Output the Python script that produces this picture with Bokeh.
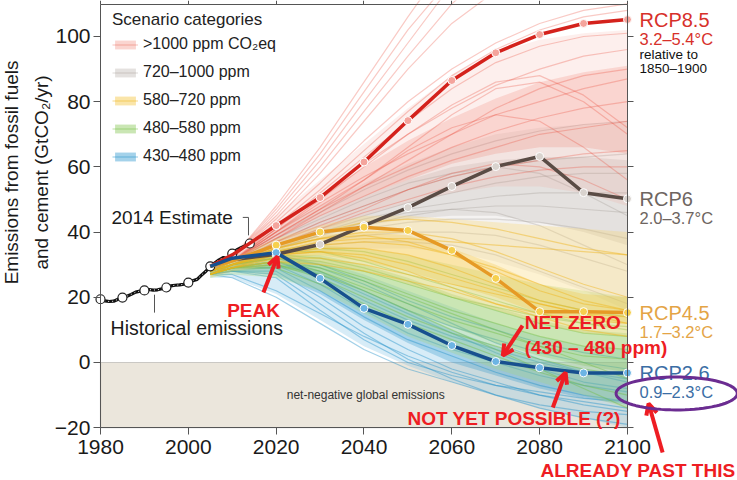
import numpy as np
from bokeh.plotting import figure
from bokeh.models import (Range1d, LinearAxis, FixedTicker, Label, Arrow, OpenHead,
                          BoxAnnotation, PolyAnnotation, Legend, LegendItem)
from bokeh.embed import file_html
from bokeh.resources import INLINE

FONT = "Liberation Sans"
RED = "#ee1d23"

# ---------------- data ----------------
hist_years = list(range(1980, 2015))
hist_vals = [19.4, 18.9, 18.7, 18.8, 19.4, 19.9, 20.3, 20.9, 21.6, 21.9,
             22.1, 22.4, 22.2, 22.3, 22.6, 23.0, 23.5, 23.7, 23.8, 24.0,
             24.5, 25.1, 25.5, 26.8, 28.0, 29.5, 30.5, 31.5, 32.2, 31.8,
             33.4, 34.5, 35.2, 35.8, 36.5]
hist_marker_years = [1980, 1985, 1990, 1995, 2000, 2005, 2010, 2014]

scen_years = [2005, 2010, 2020, 2030, 2040, 2050, 2060, 2070, 2080, 2090, 2100]
rcp_marker_years = [2020, 2030, 2040, 2050, 2060, 2070, 2080, 2090, 2100]

rcp85 = [29.5, 33.0, 42.0, 50.6, 61.5, 74.2, 86.5, 95.0, 100.6, 104.0, 105.2]
rcp6 = [29.5, 31.5, 33.2, 36.2, 42.0, 47.5, 54.0, 60.1, 63.2, 52.1, 50.2]
rcp45 = [29.5, 31.2, 36.0, 40.0, 41.5, 40.5, 34.4, 25.8, 15.6, 15.6, 15.3]
rcp26 = [29.5, 32.0, 33.7, 25.8, 16.6, 11.7, 5.2, 0.3, -1.6, -3.2, -3.2]

red_low = [27, 29, 35, 40, 45, 49, 52, 54, 54, 52, 48]
red_high = [30, 34, 45, 56, 67, 78, 88, 95, 99, 101, 102]
red_core_low = [28, 31, 38, 45, 51, 56, 61, 64, 66, 66, 64]
red_core_high = [28, 32, 42, 51, 60, 68, 75, 81, 86, 89, 91]
red_lines = [
    [28, 32, 48, 66, 86, 106, 125, 140, 150, 160, 170],
    [28, 32, 47, 64, 83, 102, 118, 130, 138, 144, 150],
    [28, 32, 46, 62, 80, 98, 116, 130, 140, 148, 155],
    [28, 32, 45, 60, 77, 94, 110, 122, 130, 136, 140],
    [28, 32, 44, 58, 74, 90, 104, 114, 120, 125, 128],
    [28, 32, 43, 55, 68, 80, 90, 98, 104, 108, 110],
    [28, 31, 42, 53, 65, 77, 88, 96, 102, 106, 108],
    [28, 31, 41, 52, 63, 74, 84, 92, 97, 100, 101],
    [28, 31, 41, 51, 61, 70, 78, 85, 90, 94, 96],
    [28, 31, 40, 49, 57, 64, 70, 76, 80, 84, 87],
    [28, 31, 39, 47, 54, 60, 66, 71, 75, 78, 80],
    [28, 31, 38, 45, 51, 57, 62, 66, 70, 72, 74],
    [28, 31, 39, 47, 56, 65, 72, 76, 74, 66, 56],
    [27, 30, 37, 43, 48, 53, 57, 60, 62, 64, 65],
    [28, 31, 40, 50, 60, 70, 79, 86, 88, 82, 72],
    [28, 31, 40, 48, 56, 66, 76, 84, 86, 80, 70],
    [27, 30, 36, 41, 46, 50, 54, 57, 59, 60, 60],
    [28, 31, 38, 46, 54, 62, 70, 78, 84, 88, 90],
    [27, 30, 37, 42, 47, 53, 58, 61, 60, 56, 50],
]

grey_low = [27, 29, 32, 34, 35, 35, 34, 31, 27, 22, 16]
grey_high = [29, 32, 41, 48, 55, 61, 66, 70, 72, 73, 74]
grey_core_low = [27, 30, 35, 39, 42, 44, 45, 45, 43, 40, 36]
grey_core_high = [28, 31, 38, 45, 51, 56, 60, 62, 63, 63, 62]
grey_lines = [
    [28, 31, 39, 46, 53, 59, 64, 68, 71, 73, 74],
    [28, 31, 37, 43, 48, 53, 57, 60, 62, 63, 64],
    [28, 30, 36, 41, 45, 49, 52, 55, 57, 58, 58],
    [27, 30, 36, 40, 44, 47, 49, 51, 52, 52, 52],
    [27, 30, 35, 39, 42, 45, 47, 48, 48, 47, 46],
    [27, 30, 35, 38, 41, 43, 44, 44, 43, 41, 38],
    [27, 29, 34, 37, 39, 40, 40, 39, 36, 32, 28],
    [27, 29, 33, 36, 37, 37, 36, 33, 28, 23, 18],
    [28, 31, 38, 44, 50, 55, 58, 60, 58, 52, 45],
    [27, 30, 35, 39, 43, 46, 47, 46, 42, 36, 30],
]

yel_low = [26, 28, 30, 30, 28, 24, 20, 16, 12, 9, 8]
yel_high = [29, 32, 38, 42, 45, 45, 44, 43, 42, 41, 40]
yel_core_low = [27, 29, 32, 33, 31, 28, 24, 20, 15, 13, 12]
yel_core_high = [28, 31, 36, 39, 40, 39, 35, 30, 24, 21, 20]
yel_lines = [
    [28, 31, 36, 40, 43, 44, 43, 41, 38, 35, 33],
    [28, 30, 35, 38, 40, 40, 38, 34, 29, 24, 20],
    [28, 30, 34, 36, 37, 36, 33, 28, 22, 18, 16],
    [27, 30, 33, 35, 35, 33, 29, 24, 19, 16, 15],
    [27, 29, 33, 34, 33, 30, 26, 22, 18, 15, 14],
    [27, 29, 32, 32, 30, 27, 24, 21, 18, 15, 12],
    [28, 31, 35, 38, 39, 37, 33, 29, 24, 19, 16],
    [27, 29, 31, 30, 28, 25, 22, 18, 14, 10, 8],
    [28, 30, 34, 37, 38, 38, 37, 36, 35, 34, 33],
    [27, 30, 33, 34, 32, 28, 23, 18, 15, 13, 12],
]

grn_low = [26, 27, 26, 22, 15, 8, 3, -2, -6, -10, -14]
grn_high = [29, 31, 35, 36, 35, 33, 30, 27, 24, 22, 20]
grn_core_low = [27, 28, 29, 27, 22, 16, 11, 6, 2, -1, -3]
grn_core_high = [28, 30, 33, 33, 30, 26, 21, 17, 13, 10, 9]
grn_lines = [
    [28, 31, 34, 35, 34, 31, 27, 23, 19, 16, 14],
    [28, 30, 33, 32, 29, 25, 20, 16, 12, 9, 8],
    [27, 30, 32, 30, 26, 21, 16, 12, 8, 5, 4],
    [27, 29, 31, 28, 23, 18, 13, 9, 5, 2, 1],
    [27, 29, 30, 26, 20, 14, 9, 5, 1, -2, -4],
    [27, 29, 31, 29, 25, 20, 15, 10, 5, 0, -5],
    [28, 30, 34, 34, 31, 27, 23, 19, 15, 12, 10],
    [27, 29, 29, 24, 18, 12, 7, 2, -3, -7, -10],
    [28, 30, 32, 31, 28, 24, 20, 17, 14, 12, 11],
    [27, 29, 30, 27, 22, 16, 10, 4, -2, -8, -14],
]

blu_low = [26, 26, 21, 13, 5, -1, -6, -10, -14, -17, -20]
blu_high = [29, 31, 33, 31, 27, 22, 17, 12, 8, 5, 4]
blu_core_low = [27, 28, 27, 21, 13, 6, 0, -4, -8, -11, -13]
blu_core_high = [28, 30, 31, 28, 22, 16, 10, 5, 1, -2, -4]
blu_lines = [
    [28, 30, 33, 30, 25, 19, 14, 10, 6, 3, 1],
    [28, 30, 32, 28, 22, 16, 11, 7, 3, 0, -2],
    [27, 29, 31, 26, 19, 13, 8, 4, 0, -3, -5],
    [27, 29, 30, 24, 16, 9, 4, 0, -4, -7, -9],
    [27, 29, 29, 22, 14, 7, 2, -3, -7, -10, -12],
    [27, 28, 28, 20, 11, 4, -2, -6, -10, -13, -15],
    [27, 28, 27, 18, 9, 1, -5, -10, -14, -17, -19],
    [27, 29, 31, 27, 21, 15, 9, 3, -2, -6, -8],
    [27, 28, 26, 16, 7, 0, -4, -7, -9, -11, -12],
    [28, 30, 32, 29, 24, 18, 12, 6, 1, -3, -6],
    [27, 26, 20, 12, 4, -2, -6, -10, -13, -15, -16],
    [27, 27, 22, 15, 8, 2, -3, -7, -10, -12, -14],
]

categories = [">1000 ppm CO₂eq", "720–1000 ppm", "580–720 ppm", "480–580 ppm", "430–480 ppm"]
rcp_names = ["RCP8.5", "RCP6", "RCP4.5", "RCP2.6"]
rcp_temps = ["3.2–5.4°C", "2.0–3.7°C", "1.7–3.2°C", "0.9–2.3°C"]
x_ticks = [1980, 2000, 2020, 2040, 2060, 2080, 2100]
y_ticks = [-20, 0, 20, 40, 60, 80, 100]
x_lo, x_hi, y_lo, y_hi = 1980, 2100, -20, 109.8

# ---------------- figure ----------------
p = figure(width=737, height=480, output_backend="svg", toolbar_location=None,
           x_range=Range1d(1957.23, 2125.05), y_range=Range1d(-36.2, 111.04),
           min_border=0, min_border_left=0, min_border_right=0,
           min_border_top=0, min_border_bottom=0,
           background_fill_color="white", border_fill_color="white",
           outline_line_color=None)
p.grid.visible = False

# axes, pinned to the plot box
p.xaxis.ticker = FixedTicker(ticks=x_ticks)
p.yaxis.ticker = FixedTicker(ticks=y_ticks)
p.xaxis.fixed_location = y_lo
p.yaxis.fixed_location = x_lo
p.xaxis.bounds = (x_lo, x_hi)
p.yaxis.bounds = (y_lo, y_hi)
for ax in (p.xaxis[0], p.yaxis[0]):
    ax.major_label_text_font = FONT
    ax.major_label_text_font_size = "21px"
    ax.major_label_text_color = "#1a1a1a"
    ax.axis_line_color = "#555555"
    ax.major_tick_line_color = "#555555"
    ax.major_tick_out = 7
    ax.major_tick_in = 0
    ax.minor_tick_line_color = None
p.xaxis.major_label_standoff = 5
p.yaxis.major_label_standoff = 3

rax = LinearAxis(ticker=FixedTicker(ticks=y_ticks), fixed_location=x_hi,
                 bounds=(y_lo, y_hi), major_label_text_alpha=0,
                 axis_line_color="#555555", major_tick_line_color="#555555",
                 major_tick_out=6, major_tick_in=0, minor_tick_line_color=None)
p.add_layout(rax, "right")
tax = LinearAxis(ticker=FixedTicker(ticks=x_ticks), fixed_location=y_hi,
                 bounds=(x_lo, x_hi), major_label_text_alpha=0,
                 axis_line_color="#555555", major_tick_line_color="#555555",
                 major_tick_out=4, major_tick_in=0, minor_tick_line_color=None)
p.add_layout(tax, "above")

# net-negative zone (its border also marks the zero line)
p.add_layout(BoxAnnotation(left=x_lo, right=x_hi, bottom=y_lo, top=0,
                           fill_color="#ebe6dc", fill_alpha=1.0,
                           line_color="#666666", line_width=1.2, level="underlay"))
p.add_layout(Label(x=2040.4, y=-10, text="net-negative global emissions",
                   text_font=FONT, text_font_size="12px", text_color="#333333",
                   text_align="center", text_baseline="middle"))

# scenario bundles
bundles = [
    ("grey", grey_low, grey_high, grey_core_low, grey_core_high, grey_lines,
     "#d3cdc8", 0.26, 0.18, "#9d9590", 0.30),
    ("red", red_low, red_high, red_core_low, red_core_high, red_lines,
     "#f29484", 0.15, 0.15, "#e8402e", 0.28),
    ("blue", blu_low, blu_high, blu_core_low, blu_core_high, blu_lines,
     "#7cc0e4", 0.30, 0.28, "#1f8fc8", 0.42),
    ("green", grn_low, grn_high, grn_core_low, grn_core_high, grn_lines,
     "#a8d878", 0.30, 0.22, "#6fbb3a", 0.40),
    ("yellow", yel_low, yel_high, yel_core_low, yel_core_high, yel_lines,
     "#f7d36a", 0.30, 0.22, "#f0b418", 0.45),
]
rend = {}
for name, lo, hi, clo, chi, lines, bc, ba, ca, lc, la in bundles:
    b = p.varea(x=scen_years, y1=lo, y2=hi, fill_color=bc, fill_alpha=ba)
    c = p.varea(x=scen_years, y1=clo, y2=chi, fill_color=lc, fill_alpha=ca)
    m = p.multi_line(xs=[scen_years] * len(lines), ys=lines, line_color=lc,
                     line_alpha=la, line_width=1.2)
    rend[name] = [b, c, m]

# historical emissions
p.line(hist_years, hist_vals, line_color="#111111", line_width=3.2)
p.line(hist_years, hist_vals, line_color="white", line_width=1, line_dash="1 3")
hm_vals = [hist_vals[hist_years.index(y)] for y in hist_marker_years]
p.scatter(hist_marker_years, hm_vals, size=9, fill_color="white",
          line_color="#222222", line_width=1.2)

# RCP pathways
rcp_styles = [
    (rcp85, "#d4221c", "#f4a49c", "#d7302a"),
    (rcp6, "#5a4c45", "#d9d3ce", "#6e6560"),
    (rcp45, "#e69a25", "#f6d04e", "#e4a445"),
    (rcp26, "#17508f", "#6cb4e4", "#3b6ea5"),
]
for (vals, lc, mc, tc), nm, tmp in zip(rcp_styles, rcp_names, rcp_temps):
    p.line(scen_years, vals, line_color=lc, line_width=3.5)
    mv = [vals[scen_years.index(y)] for y in rcp_marker_years]
    p.scatter(rcp_marker_years, mv, size=8, fill_color=mc, line_color="white",
              line_width=1)
    p.add_layout(Label(x=x_hi, y=vals[-1], x_offset=12, text=nm, text_font=FONT,
                       text_font_size="20px", text_color=tc, text_baseline="middle"))
    p.add_layout(Label(x=x_hi, y=vals[-1], x_offset=12, y_offset=-19, text=tmp,
                       text_font=FONT, text_font_size="16.5px", text_color=tc,
                       text_baseline="middle"))
p.add_layout(Label(x=x_hi, y=rcp85[-1], x_offset=12, y_offset=-35, text="relative to",
                   text_font=FONT, text_font_size="13.5px", text_color="#111111",
                   text_baseline="middle"))
p.add_layout(Label(x=x_hi, y=rcp85[-1], x_offset=12, y_offset=-49, text="1850–1900",
                   text_font=FONT, text_font_size="13.5px", text_color="#111111",
                   text_baseline="middle"))

# y-axis title (two lines)
for txt, xo in (("Emissions from fossil fuels", -89), ("and cement (GtCO₂/yr)", -59)):
    p.add_layout(Label(x=x_lo, y=58.3, x_offset=xo, text=txt, angle=np.pi / 2,
                       text_font=FONT, text_font_size="19px", text_color="#1a1a1a",
                       text_align="center", text_baseline="middle"))

# legend
items = [LegendItem(label=lab, renderers=rend[k])
         for lab, k in zip(categories, ["red", "grey", "yellow", "green", "blue"])]
legend = Legend(items=items, title="Scenario categories", location=(112, 314),
                title_text_font=FONT, title_text_font_size="17px",
                title_text_font_style="normal", title_text_color="#222222",
                label_text_font=FONT, label_text_font_size="16px",
                label_text_color="#222222", glyph_width=26, glyph_height=11,
                label_height=20, spacing=8, label_standoff=5, padding=0, margin=0,
                title_standoff=4, border_line_color=None, background_fill_alpha=0)
p.add_layout(legend)

# annotations
est_x = hist_marker_years[-1]
est_y = hm_vals[-1]
p.line([est_x - 1.6, est_x - 0.3, est_x - 0.3], [est_y + 8.0, est_y + 8.0, est_y + 2.5],
       line_color="#555555", line_width=1)
p.add_layout(Label(x=1982.5, y=est_y + 8.0, text="2014 Estimate", text_font=FONT,
                   text_font_size="19px", text_color="#1a1a1a", text_baseline="middle"))
p.line([1992.3, 1992.3], [20.8, 15.3], line_color="#555555", line_width=1)
p.add_layout(Label(x=1982.3, y=10.7, text="Historical emissions", text_font=FONT,
                   text_font_size="19.5px", text_color="#1a1a1a", text_baseline="middle"))

red_texts = [
    ("PEAK", 2014.85, 16.0, "center"),
    ("NET ZERO", 2076.6, 12.3, "left"),
    ("(430 – 480 ppm)", 2076.6, 4.6, "left"),
    ("NOT YET POSSIBLE (?)", 2049.9, -17.2, "left"),
    ("ALREADY PAST THIS", 2080.2, -33.1, "left"),
]
for t, x, y, al in red_texts:
    p.add_layout(Label(x=x, y=y, text=t, text_font=FONT, text_font_size="19px",
                       text_font_style="bold", text_color=RED, text_align=al,
                       text_baseline="middle"))

arrows = [
    (2017.1, 21.5, 2020.3, 32.5),
    (2076.1, 11.3, 2071.6, 2.1),
    (2083.0, -13.8, 2085.9, -3.1),
    (2108.0, -27.6, 2104.8, -12.6),
]
for x0, y0, x1, y1 in arrows:
    p.add_layout(Arrow(x_start=x0, y_start=y0, x_end=x1, y_end=y1,
                       line_color=RED, line_width=4,
                       end=OpenHead(line_color=RED, line_width=4, size=11)))

# purple ellipse around RCP2.6 temperature range
t = np.linspace(0, 2 * np.pi, 80)
cx, cy, rx, ry = 2111.2, -9.5, 13.8, 5.05
p.add_layout(PolyAnnotation(xs=list(cx + rx * np.cos(t)), ys=list(cy + ry * np.sin(t)),
                            fill_alpha=0, line_color="#6b2c91", line_alpha=1.0,
                            line_width=3))

open("out.html", "w").write(file_html(p, INLINE))
